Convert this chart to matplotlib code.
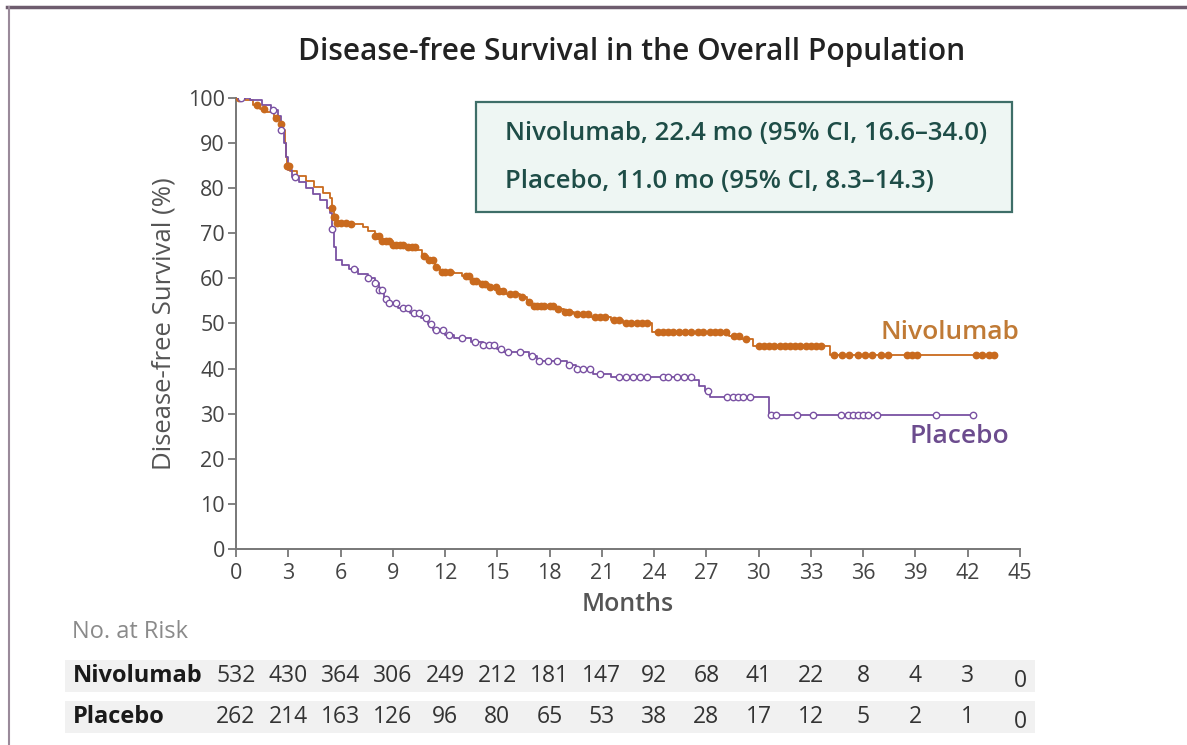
import numpy as np
import matplotlib.pyplot as plt
from matplotlib.lines import Line2D
from matplotlib.patches import Rectangle

# Kaplan-Meier step estimates (months, % disease-free)
nivo_t = [0, 0.5, 1.0, 1.4, 1.8, 2.2, 2.5, 2.7, 2.8, 2.85, 2.9, 3.1, 3.5, 4.0, 4.5, 5.0,
          5.4, 5.5, 5.6, 5.8, 6.5, 7.3, 7.6, 8.0, 8.4, 9.0, 9.8, 10.4, 10.7, 11.0, 11.4,
          11.7, 12.5, 13.0, 13.5, 14.0, 14.5, 15.0, 15.5, 16.3, 16.7, 17.0, 18.3, 18.8,
          19.4, 20.3, 21.5, 22.2, 23.9, 28.3, 29.0, 29.7, 34.1]
nivo_s = [100, 99.6, 98.5, 97.5, 96.8, 95.5, 94.3, 93, 90, 87, 85, 83.8, 82.8, 81.5, 80.3, 79,
          77.8, 75.5, 73.5, 72.3, 72, 71.5, 70.5, 69.5, 68.3, 67.5, 67, 66.3, 65, 64, 62.5,
          61.5, 61.3, 60.5, 59.5, 58.7, 58, 57.3, 56.6, 55.8, 54.7, 53.8, 53.3, 52.6,
          52, 51.4, 50.8, 50.2, 48, 47.2, 46.5, 45.1, 43]
nivo_end = 43.5

plac_t = [0, 0.8, 1.5, 2.0, 2.4, 2.6, 2.75, 2.85, 3.0, 3.2, 3.6, 4.0, 4.4, 4.8, 5.2, 5.4,
          5.5, 5.6, 5.75, 6.1, 6.5, 7.0, 7.6, 8.0, 8.2, 8.5, 8.7, 9.3, 10.0, 10.6, 11.0,
          11.3, 12.0, 12.5, 13.5, 14.2, 15.0, 15.3, 16.8, 17.3, 19.0, 19.5, 20.5, 21.5,
          26.3, 26.6, 26.9, 27.2, 30.6]
plac_s = [100, 99.5, 98.5, 97.3, 96, 93, 90, 87, 84, 82.5, 81.3, 80, 78.8, 77.4, 75.6, 74.5,
          71, 67, 64, 63, 62, 61, 60, 59, 57.5, 55.5, 54.5, 53.4, 52.3, 51.2, 49.8,
          48.6, 47.5, 46.8, 46, 45.3, 44.3, 43.6, 42.8, 41.6, 40.8, 39.8, 38.9, 38.2,
          37.4, 36.2, 35, 33.8, 29.8]
plac_end = 42.4

# censoring times
nivo_cens = [0.2, 1.2, 1.6, 2.3, 2.6, 2.9, 3.0, 3.05, 5.5, 5.6, 5.7, 5.8, 6.0, 6.3, 6.6,
             8.0, 8.2, 8.4, 8.6, 8.8, 9.0, 9.2, 9.4, 9.6, 9.9, 10.1, 10.3, 10.8, 11.1,
             11.3, 11.5, 11.8, 12.0, 12.3, 13.2, 13.4, 13.6, 13.8, 14.1, 14.3, 14.6, 14.9,
             15.1, 15.3, 15.7, 16.0, 16.4, 16.8, 17.1, 17.3, 17.5, 17.7, 18.0, 18.2, 18.5,
             18.9, 19.1, 19.6, 19.9, 20.2, 20.6, 20.9, 21.2, 21.7, 22.0, 22.4, 22.7, 23.0,
             23.3, 23.6, 24.2, 24.5, 24.8, 25.1, 25.4, 25.8, 26.1, 26.5, 26.8, 27.2, 27.5,
             27.8, 28.1, 28.6, 28.9, 29.3, 30.0, 30.3, 30.6, 30.9, 31.2, 31.5, 31.8, 32.1,
             32.4, 32.7, 33.0, 33.3, 33.6, 34.3, 34.8, 35.2, 35.7, 36.1, 36.5, 37.0, 37.4,
             38.5, 38.8, 39.1, 42.5, 42.8, 43.2, 43.5]
plac_cens = [0.3, 2.1, 2.6, 3.4, 5.5, 6.8, 7.6, 8.0, 8.2, 8.4, 8.6, 8.8, 9.2, 9.6, 9.9,
             10.2, 10.5, 10.9, 11.2, 11.5, 11.9, 12.2, 13.0, 13.7, 14.2, 14.5, 14.8, 15.2,
             15.6, 16.3, 17.0, 17.4, 17.9, 18.4, 19.1, 19.6, 19.9, 20.3, 20.9, 22.0, 22.4,
             22.8, 23.2, 23.6, 24.5, 24.8, 25.3, 25.7, 26.1, 27.1, 28.2, 28.5, 28.8, 29.1,
             29.5, 30.7, 31.0, 32.2, 33.1, 34.7, 35.1, 35.4, 35.7, 36.0, 36.3, 36.8, 40.2,
             42.3]

risk_months = list(range(0, 46, 3))
nivo_risk = [532, 430, 364, 306, 249, 212, 181, 147, 92, 68, 41, 22, 8, 4, 3, 0]
plac_risk = [262, 214, 163, 126, 96, 80, 65, 53, 38, 28, 17, 12, 5, 2, 1, 0]

ORANGE = "#C96A1E"
PURPLE = "#7A52A3"
TEAL = "#1E4D47"
GRAY = "#555555"

plt.rcParams["font.family"] = ["Open Sans", "DejaVu Sans"]

fig = plt.figure(figsize=(11.87, 7.45), dpi=100)
ax = fig.add_axes([0.1988, 0.2631, 0.6605, 0.6054])


def step_value(t, times, surv):
    i = np.searchsorted(times, t, side="right") - 1
    return np.asarray(surv)[i]


for times, surv, end, cens, col, filled in [
    (nivo_t, nivo_s, nivo_end, nivo_cens, ORANGE, True),
    (plac_t, plac_s, plac_end, plac_cens, PURPLE, False),
]:
    xs = list(times) + [end]
    ys = list(surv) + [surv[-1]]
    ax.step(xs, ys, where="post", color=col, lw=1.3, zorder=3)
    cy = step_value(np.array(cens), times, surv)
    ax.plot(cens, cy, ls="none", marker="o", ms=4.6,
            mfc=col if filled else "white", mec=col, mew=1.0, zorder=4)

ax.set_xlim(0, 45)
ax.set_ylim(0, 100)
ax.set_xticks(risk_months)
ax.set_yticks(range(0, 101, 10))
ax.tick_params(axis="both", direction="out", length=6, width=1.3, color="#777777",
               labelcolor="#444444", labelsize=15.5)
ax.tick_params(axis="x", pad=4)
ax.tick_params(axis="y", pad=2)
for side in ("top", "right"):
    ax.spines[side].set_visible(False)
for side in ("left", "bottom"):
    ax.spines[side].set_color("#777777")
    ax.spines[side].set_linewidth(1.4)

ax.set_ylabel("Disease-free Survival (%)", fontsize=18.5, color=GRAY, labelpad=8)
ax.set_xlabel("Months", fontsize=18, color=GRAY, fontweight="semibold", labelpad=6)

fig.text(0.532, 0.930, "Disease-free Survival in the Overall Population", ha="center",
         va="center", fontsize=21.5, fontweight="semibold", color="#222222")

# median DFS box
ax.add_patch(Rectangle((0.306, 0.747), 0.684, 0.244, transform=ax.transAxes,
                       fc="#EEF6F3", ec="#3E6E68", lw=1.6, zorder=2))
ax.text(0.343, 0.922, "Nivolumab, 22.4 mo (95% CI, 16.6\u201334.0)", transform=ax.transAxes,
        ha="left", va="center", fontsize=18.5, fontweight="semibold", color=TEAL, zorder=5)
ax.text(0.343, 0.814, "Placebo, 11.0 mo (95% CI, 8.3\u201314.3)", transform=ax.transAxes,
        ha="left", va="center", fontsize=18.5, fontweight="semibold", color=TEAL, zorder=5)

ax.text(0.999, 0.479, "Nivolumab", transform=ax.transAxes, ha="right", va="center",
        fontsize=19, fontweight="semibold", color="#C07A35")
ax.text(0.986, 0.250, "Placebo", transform=ax.transAxes, ha="right", va="center",
        fontsize=19, fontweight="semibold", color="#6C4C8E")

# number-at-risk table
trans = ax.get_xaxis_transform()
fig.text(0.061, 0.152, "No. at Risk", ha="left", va="center", fontsize=17, color="#8A8A8A")
for ypix, name, counts in [(676, "Nivolumab", nivo_risk), (717, "Placebo", plac_risk)]:
    yf = 1 - ypix / 745
    fig.patches.append(Rectangle((0.055, yf - 0.021), 0.817, 0.042, transform=fig.transFigure,
                                 fc="#F1F1F1", ec="none", zorder=-1))
    fig.text(0.061, yf, name, ha="left", va="center", fontsize=17,
             fontweight="bold", color="#1A1A1A")
    for m, n in zip(risk_months, counts):
        ya = (549 - ypix) / 451
        ax.text(m, ya - (0.01 if n == 0 else 0), str(n), transform=trans, ha="center",
                va="center", fontsize=16.5, color="#333333", clip_on=False)

# outer frame
fig.add_artist(Line2D([0.006, 1.0], [0.990, 0.990], transform=fig.transFigure,
                      color="#6E5C6E", lw=2.5))
fig.add_artist(Line2D([0.008, 0.008], [0.0, 0.990], transform=fig.transFigure,
                      color="#9A8A9A", lw=1.5))

fig.savefig("out.png", dpi=100)
